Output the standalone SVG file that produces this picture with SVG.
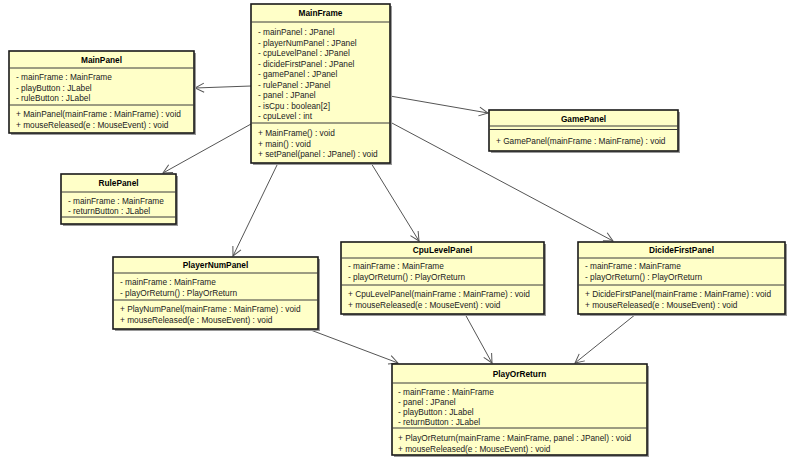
<svg xmlns="http://www.w3.org/2000/svg" width="800" height="465" viewBox="0 0 800 465">
<style>
  .shadow { fill: #9a9a9a; }
  .box { fill: #ffffc8; stroke: #1a1a1a; stroke-width: 1.6; }
  .sep { stroke: #3a3a3a; stroke-width: 1; }
  .title { font-family: "Liberation Sans", Arial, sans-serif; font-size: 8.3px; font-weight: bold; fill: #000; text-anchor: middle; }
  .t { font-family: "Liberation Sans", Arial, sans-serif; font-size: 8.3px; fill: #222; }
  .conn { stroke: #555; stroke-width: 1; fill: none; marker-end: url(#open); }
</style>
<defs>
  <marker id="open" viewBox="-11 -6 12 12" refX="0" refY="0" markerWidth="12" markerHeight="12" markerUnits="userSpaceOnUse" orient="auto">
    <path d="M-9,-4.5 L0,0 L-9,4.5" fill="none" stroke="#555" stroke-width="1"/>
  </marker>
</defs>
<rect width="800" height="465" fill="#ffffff"/>

<g id="connectors">
  <line class="conn" x1="251" y1="86" x2="195" y2="88"/>
  <line class="conn" x1="251" y1="124" x2="163" y2="173"/>
  <line class="conn" x1="390" y1="96" x2="488" y2="113"/>
  <line class="conn" x1="278" y1="163" x2="233" y2="256"/>
  <line class="conn" x1="371" y1="163" x2="419" y2="241"/>
  <line class="conn" x1="390" y1="122" x2="613" y2="241"/>
  <line class="conn" x1="308" y1="329" x2="398" y2="363"/>
  <line class="conn" x1="465" y1="314" x2="492" y2="363"/>
  <line class="conn" x1="636" y1="314" x2="575" y2="363"/>
</g>

<g id="MainFrame">
  <rect class="shadow" x="253" y="6" width="139" height="159"/>
  <rect class="box" x="251" y="4" width="139" height="159"/>
  <line class="sep" x1="251" y1="22" x2="390" y2="22"/>
  <line class="sep" x1="251" y1="123" x2="390" y2="123"/>
  <text class="title" x="320.5" y="16">MainFrame</text>
  <text class="t" x="258" y="35">- mainPanel : JPanel</text>
  <text class="t" x="258" y="45.5">- playerNumPanel : JPanel</text>
  <text class="t" x="258" y="56">- cpuLevelPanel : JPanel</text>
  <text class="t" x="258" y="66.5">- dicideFirstPanel : JPanel</text>
  <text class="t" x="258" y="77">- gamePanel : JPanel</text>
  <text class="t" x="258" y="87.5">- rulePanel : JPanel</text>
  <text class="t" x="258" y="98">- panel : JPanel</text>
  <text class="t" x="258" y="108.5">- isCpu : boolean[2]</text>
  <text class="t" x="258" y="119">- cpuLevel : int</text>
  <text class="t" x="258" y="136">+ MainFrame() : void</text>
  <text class="t" x="258" y="146.5">+ main() : void</text>
  <text class="t" x="258" y="157">+ setPanel(panel : JPanel) : void</text>
</g>

<g id="MainPanel">
  <rect class="shadow" x="11" y="53" width="185" height="82"/>
  <rect class="box" x="9" y="51" width="185" height="82"/>
  <line class="sep" x1="9" y1="68" x2="194" y2="68"/>
  <line class="sep" x1="9" y1="105" x2="194" y2="105"/>
  <text class="title" x="101.5" y="63">MainPanel</text>
  <text class="t" x="16" y="80">- mainFrame : MainFrame</text>
  <text class="t" x="16" y="90.5">- playButton : JLabel</text>
  <text class="t" x="16" y="101">- ruleButton : JLabel</text>
  <text class="t" x="16" y="117">+ MainPanel(mainFrame : MainFrame) : void</text>
  <text class="t" x="16" y="127.5">+ mouseReleased(e : MouseEvent) : void</text>
</g>

<g id="RulePanel">
  <rect class="shadow" x="63" y="176" width="115" height="50"/>
  <rect class="box" x="61" y="174" width="115" height="50"/>
  <line class="sep" x1="61" y1="192" x2="176" y2="192"/>
  <line class="sep" x1="61" y1="217" x2="176" y2="217"/>
  <text class="title" x="118.5" y="186">RulePanel</text>
  <text class="t" x="68" y="204">- mainFrame : MainFrame</text>
  <text class="t" x="68" y="214">- returnButton : JLabel</text>
</g>

<g id="GamePanel">
  <rect class="shadow" x="491" y="112" width="189" height="41"/>
  <rect class="box" x="489" y="110" width="189" height="41"/>
  <line class="sep" x1="489" y1="126" x2="678" y2="126"/>
  <line class="sep" x1="489" y1="129.5" x2="678" y2="129.5"/>
  <text class="title" x="583.5" y="122">GamePanel</text>
  <text class="t" x="496" y="144">+ GamePanel(mainFrame : MainFrame) : void</text>
</g>

<g id="PlayerNumPanel">
  <rect class="shadow" x="115" y="259" width="205" height="72"/>
  <rect class="box" x="113" y="257" width="205" height="72"/>
  <line class="sep" x1="113" y1="273" x2="318" y2="273"/>
  <line class="sep" x1="113" y1="300" x2="318" y2="300"/>
  <text class="title" x="215.5" y="268">PlayerNumPanel</text>
  <text class="t" x="120" y="285">- mainFrame : MainFrame</text>
  <text class="t" x="120" y="296">- playOrReturn() : PlayOrReturn</text>
  <text class="t" x="120" y="312">+ PlayNumPanel(mainFrame : MainFrame) : void</text>
  <text class="t" x="120" y="322.5">+ mouseReleased(e : MouseEvent) : void</text>
</g>

<g id="CpuLevelPanel">
  <rect class="shadow" x="343" y="244" width="203" height="72"/>
  <rect class="box" x="341" y="242" width="203" height="72"/>
  <line class="sep" x1="341" y1="258" x2="544" y2="258"/>
  <line class="sep" x1="341" y1="285" x2="544" y2="285"/>
  <text class="title" x="442.5" y="253">CpuLevelPanel</text>
  <text class="t" x="348" y="269">- mainFrame : MainFrame</text>
  <text class="t" x="348" y="280">- playOrReturn() : PlayOrReturn</text>
  <text class="t" x="348" y="297">+ CpuLevelPanel(mainFrame : MainFrame) : void</text>
  <text class="t" x="348" y="308">+ mouseReleased(e : MouseEvent) : void</text>
</g>

<g id="DicideFirstPanel">
  <rect class="shadow" x="580" y="244" width="207" height="72"/>
  <rect class="box" x="578" y="242" width="207" height="72"/>
  <line class="sep" x1="578" y1="258" x2="785" y2="258"/>
  <line class="sep" x1="578" y1="285" x2="785" y2="285"/>
  <text class="title" x="681.5" y="253">DicideFirstPanel</text>
  <text class="t" x="585" y="269">- mainFrame : MainFrame</text>
  <text class="t" x="585" y="280">- playOrReturn() : PlayOrReturn</text>
  <text class="t" x="585" y="297">+ DicideFirstPanel(mainFrame : MainFrame) : void</text>
  <text class="t" x="585" y="308">+ mouseReleased(e : MouseEvent) : void</text>
</g>

<g id="PlayOrReturn">
  <rect class="shadow" x="394" y="366" width="255" height="91"/>
  <rect class="box" x="392" y="364" width="255" height="91"/>
  <line class="sep" x1="392" y1="383" x2="647" y2="383"/>
  <line class="sep" x1="392" y1="428" x2="647" y2="428"/>
  <text class="title" x="519.5" y="377">PlayOrReturn</text>
  <text class="t" x="398" y="394.5">- mainFrame : MainFrame</text>
  <text class="t" x="398" y="404.5">- panel : JPanel</text>
  <text class="t" x="398" y="414.5">- playButton : JLabel</text>
  <text class="t" x="398" y="424.5">- returnButton : JLabel</text>
  <text class="t" x="398" y="441">+ PlayOrReturn(mainFrame : MainFrame, panel : JPanel) : void</text>
  <text class="t" x="398" y="451.5">+ mouseReleased(e : MouseEvent) : void</text>
</g>
</svg>
